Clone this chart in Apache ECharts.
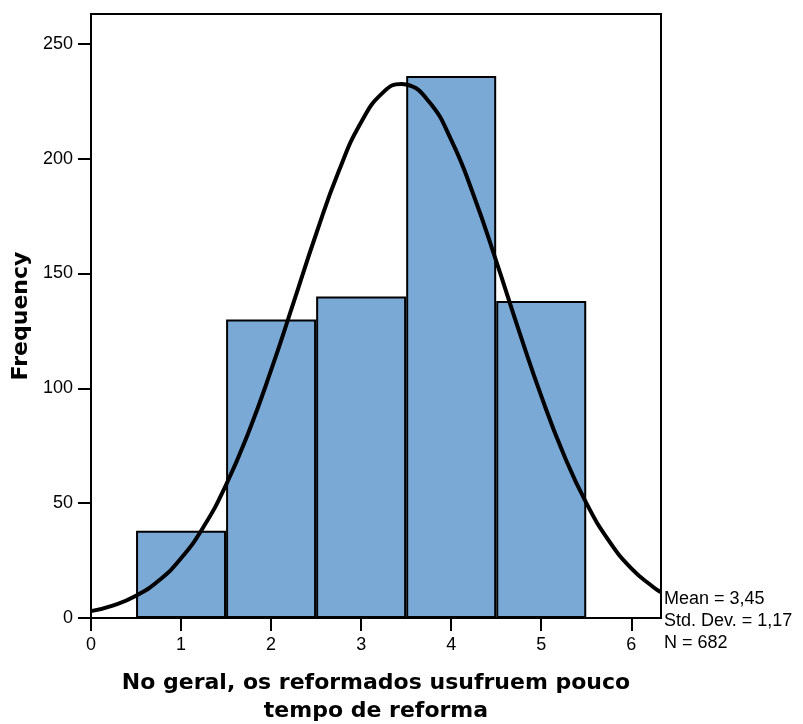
<!DOCTYPE html>
<html>
<head>
<meta charset="utf-8">
<script src="https://cdn.jsdelivr.net/npm/echarts@6/dist/echarts.min.js"></script>
<style>
	html, body { margin: 0; padding: 0; background: #fff; }
	#chart { width: 803px; height: 724px; }
</style>
</head>
<body>
<div id="chart"></div>
<script>
	// histogram bins (centre of each bin) and counts
	var binCentres = [1, 2, 3, 4, 5];
	var binCounts = [38, 130, 140, 236, 138];

	// normal curve
	var curveX = [0, 0.25, 0.5, 0.75, 1, 1.25, 1.5, 1.75, 2, 2.25, 2.5, 2.75, 3, 3.25, 3.45, 3.5, 3.75, 4, 4.25, 4.5, 4.75, 5, 5.25, 5.5, 5.75, 6, 6.25, 6.33];
	var curveY = [3.0, 5.5, 9.7, 16.2, 26.0, 39.7, 58.0, 80.9, 107.9, 137.4, 167.2, 194.4, 215.9, 229.1, 232.5, 232.3, 225.0, 208.2, 184.0, 155.4, 125.4, 96.7, 71.2, 50.1, 33.7, 21.6, 13.3, 11.2];

	var yTicks = [0, 50, 100, 150, 200, 250];
	var statsText = ['Mean = 3,45', 'Std. Dev. = 1,17', 'N = 682'];

	var chart = echarts.init(document.getElementById('chart'));

	var barData = binCentres.map(function (c, i) { return [c, binCounts[i]]; });
	var lineData = curveX.map(function (x, i) { return [x, curveY[i]]; });

	var sans = 'Liberation Sans, Arial, sans-serif';
	var boldFont = 'DejaVu Sans, Liberation Sans, sans-serif';

	chart.setOption({
		backgroundColor: '#fff',
		animation: false,
		textStyle: { fontFamily: sans },
		grid: {
			left: 91, right: 142, top: 14, bottom: 106,
			outerBoundsMode: 'none',
			containLabel: false,
			show: true, borderColor: '#000', borderWidth: 2, backgroundColor: 'transparent'
		},
		xAxis: {
			type: 'value',
			min: 0, max: 6.33, interval: 1,
			splitLine: { show: false },
			axisLine: { lineStyle: { color: '#000', width: 2 } },
			axisTick: { length: 13, lineStyle: { color: '#000', width: 2 } },
			axisLabel: {
				color: '#000', fontSize: 18, margin: 18, showMaxLabel: false,
				formatter: function (v) { return Number.isInteger(v) ? String(v) : ''; }
			},
			name: 'No geral, os reformados usufruem pouco\ntempo de reforma',
			nameLocation: 'middle',
			nameGap: 51,
			nameTextStyle: { color: '#000', fontSize: 22, fontWeight: 'bold', lineHeight: 28, fontFamily: boldFont }
		},
		yAxis: {
			type: 'value',
			min: 0, max: 263, interval: 50,
			splitLine: { show: false },
			axisLine: { show: true, lineStyle: { color: '#000', width: 2 } },
			axisTick: { show: true, length: 13, lineStyle: { color: '#000', width: 2 } },
			axisLabel: {
				color: '#000', fontSize: 18, margin: 18, showMaxLabel: false,
				formatter: function (v) { return yTicks.indexOf(v) >= 0 ? String(v) : ''; }
			},
			name: 'Frequency',
			nameLocation: 'middle',
			nameGap: 59,
			nameTextStyle: { color: '#000', fontSize: 22, fontWeight: 'bold', fontFamily: boldFont }
		},
		series: [{
			type: 'bar',
			data: barData,
			barWidth: 90,
			itemStyle: { color: '#7aa9d6', borderColor: '#000', borderWidth: 2 },
			z: 2
		}, {
			type: 'line',
			data: lineData,
			smooth: true,
			symbol: 'none',
			lineStyle: { color: '#000', width: 4 },
			z: 3
		}],
		graphic: statsText.map(function (t, i) {
			return {
				type: 'text',
				left: 664,
				top: 590 + i * 22,
				style: { text: t, fill: '#000', fontSize: 18, fontFamily: sans }
			};
		})
	});
</script>
</body>
</html>
